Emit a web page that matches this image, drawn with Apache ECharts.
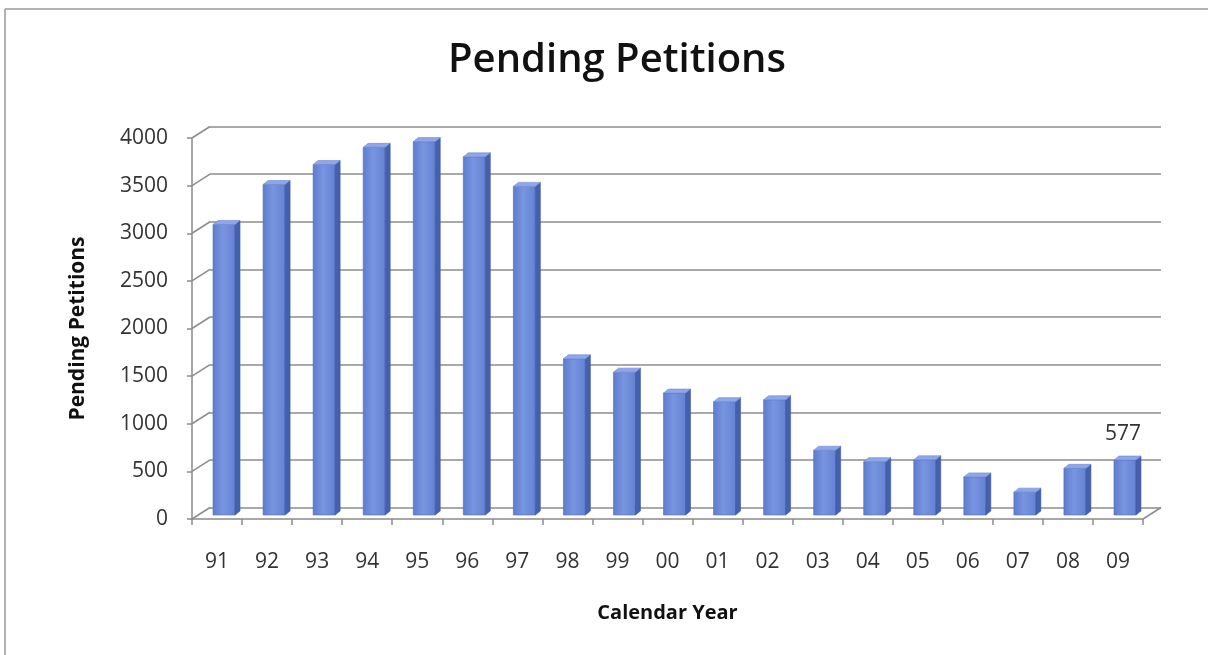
<!DOCTYPE html>
<html>
<head>
<meta charset="utf-8">
<script src="https://cdn.jsdelivr.net/npm/echarts@6/dist/echarts.min.js"></script>
<style>
html,body{margin:0;padding:0;background:#fff;}
#chart{width:1208px;height:655px;}
</style>
</head>
<body>
<div id="chart"></div>
<script>
// ---- data ----
const years = ['91','92','93','94','95','96','97','98','99','00','01','02','03','04','05','06','07','08','09'];
const pending = [3050,3470,3680,3860,3920,3760,3450,1640,1500,1280,1190,1210,680,560,580,400,240,490,577];
const labeledYears = ['09'];
const yTicks = [0,500,1000,1500,2000,2500,3000,3500,4000];

const FONT = 'Open Sans';
const chart = echarts.init(document.getElementById('chart'), null, {renderer:'canvas'});

const barData = pending.map((v,i)=>[i,v]);
const tickData = yTicks.map(v=>[0,v]);

const option = {
  backgroundColor:'#fff',
  animation:false,
  title:{
    text:'Pending Petitions',
    left:612, top:36, textAlign:'center',
    textStyle:{fontFamily:FONT,fontSize:40,fontWeight:600,color:'#111'}
  },
  graphic:[
    {type:'line',shape:{x1:5,y1:9,x2:1208,y2:9},style:{stroke:'#999',lineWidth:1.5}},
    {type:'line',shape:{x1:5,y1:9,x2:5,y2:655},style:{stroke:'#999',lineWidth:1.5}}
  ],
  grid:[
    {left:192, width:951, top:138, bottom:136, containLabel:false},
    {left:210, width:951, top:126.5, bottom:147.5, containLabel:false}
  ],
  xAxis:[
    {type:'category', gridIndex:0, data:years, boundaryGap:true,
     axisLine:{show:true,lineStyle:{color:'#8a8a8a',width:1.5}},
     axisTick:{show:true,length:6,lineStyle:{color:'#8a8a8a',width:1.5}},
     axisLabel:{fontFamily:FONT,fontSize:21,color:'#333',margin:33},
     name:'Calendar Year', nameLocation:'middle', nameGap:84,
     nameTextStyle:{fontFamily:FONT,fontSize:20,fontWeight:'bold',color:'#111'}
    },
    {type:'category', gridIndex:1, data:years, show:false}
  ],
  yAxis:[
    {type:'value', gridIndex:0, min:0, max:4000, interval:500,
     axisLine:{show:true,lineStyle:{color:'#8a8a8a',width:1.5}},
     axisTick:{show:true,length:5,lineStyle:{color:'#8a8a8a',width:1.5}},
     splitLine:{show:false},
     axisLabel:{fontFamily:FONT,fontSize:21,color:'#333',margin:24,formatter:function(v){return String(v);}},
     name:'Pending Petitions', nameLocation:'middle', nameGap:103,
     nameTextStyle:{fontFamily:FONT,fontSize:21,fontWeight:'bold',color:'#111'}
    },
    {type:'value', gridIndex:1, min:0, max:4000, interval:500,
     axisLine:{show:false}, axisTick:{show:false}, axisLabel:{show:false},
     splitLine:{show:true,lineStyle:{color:'#8c8c8c',width:1.5}}
    }
  ],
  series:[
    {
      type:'custom', xAxisIndex:0, yAxisIndex:0, data:tickData, silent:true, z:1,
      renderItem:function(params, api){
        const p = api.coord([api.value(0), api.value(1)]);
        const band = api.size([1,0])[0];
        const x = p[0] - band/2;
        const children = [{type:'line',shape:{x1:x,y1:p[1],x2:x+18,y2:p[1]-11.5},
          style:{stroke:'#8c8c8c',lineWidth:1.5}}];
        if (api.value(1) === 0) {
          const xr = api.coord([years.length-1,0])[0] + band/2;
          children.push({type:'line',shape:{x1:xr,y1:p[1],x2:xr+18,y2:p[1]-11.5},
            style:{stroke:'#8c8c8c',lineWidth:1.5}});
        }
        return {type:'group',children:children};
      }
    },
    {
      type:'custom', xAxisIndex:0, yAxisIndex:0, data:barData, z:3,
      renderItem:function(params, api){
        const i = api.value(0), v = api.value(1);
        const base = api.coord([i,0]);
        const top = api.coord([i,v]);
        const x0 = base[0]-4, x1 = base[0]+18;
        const yb = base[1]-4, yt = top[1]-4;
        const d = 5, dh = 4;
        const children = [
          {type:'rect',shape:{x:x0,y:yt,width:x1-x0,height:yb-yt},
           style:{fill:new echarts.graphic.LinearGradient(0,0,1,0,[
             {offset:0,color:'#5e7cce'},{offset:0.45,color:'#7895e0'},{offset:1,color:'#6482d3'}]),
             stroke:'#506cbc',lineWidth:0.6}},
          {type:'polygon',shape:{points:[[x1,yt],[x1+d,yt-dh],[x1+d,yb-dh],[x1,yb]]},
           style:{fill:'#4560ac',stroke:'#3f579f',lineWidth:0.6}},
          {type:'polygon',shape:{points:[[x0,yt],[x1,yt],[x1+d,yt-dh],[x0+d,yt-dh]]},
           style:{fill:'#8ea7ea',stroke:'#6c88d4',lineWidth:0.6}}
        ];
        if (labeledYears.indexOf(years[i]) >= 0) {
          children.push({type:'text',style:{text:String(v),x:(x0+x1)/2-2,y:yt-16,
            align:'center',verticalAlign:'bottom',
            font:'21px "'+FONT+'"',fill:'#333'}});
        }
        return {type:'group',children:children};
      }
    }
  ]
};
chart.setOption(option);
</script>
</body>
</html>
